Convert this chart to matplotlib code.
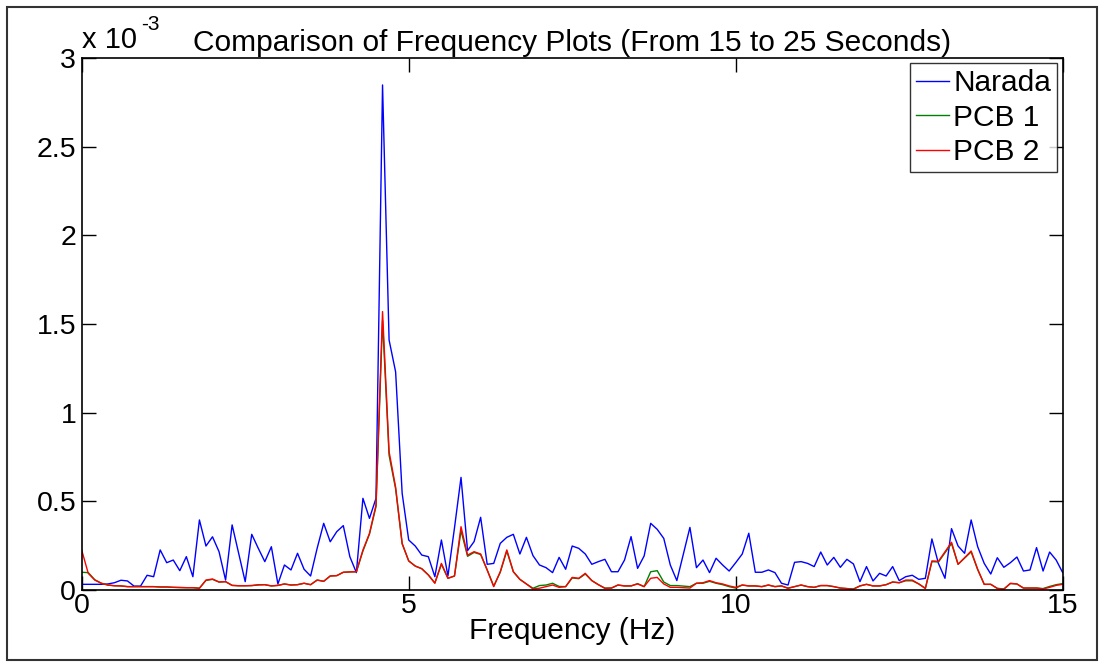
import numpy as np
import matplotlib
matplotlib.use("Agg")
import matplotlib.pyplot as plt
from matplotlib.patches import Rectangle

plt.rcParams['font.family'] = ['Liberation Sans', 'DejaVu Sans']

# Frequency axis (Hz), 0.1 Hz resolution (10 s window)
freq = np.round(np.arange(151) * 0.1, 1)

# Amplitudes in units of 1e-3
narada = [
    0.032, 0.032, 0.032, 0.032, 0.034, 0.041, 0.055, 0.051, 0.022, 0.022,
    0.083, 0.075, 0.226, 0.154, 0.169, 0.109, 0.188, 0.075, 0.395, 0.248,
    0.300, 0.216, 0.056, 0.367, 0.207, 0.047, 0.314, 0.235, 0.160, 0.244,
    0.034, 0.141, 0.113, 0.207, 0.117, 0.079, 0.235, 0.376, 0.272, 0.329,
    0.363, 0.188, 0.098, 0.517, 0.404, 0.517, 2.848, 1.410, 1.230, 0.545,
    0.282, 0.248, 0.197, 0.188, 0.075, 0.282, 0.079, 0.350, 0.635, 0.222,
    0.273, 0.410, 0.145, 0.150, 0.263, 0.297, 0.314, 0.203, 0.297, 0.194,
    0.141, 0.126, 0.098, 0.184, 0.117, 0.248, 0.235, 0.203, 0.145, 0.160,
    0.173, 0.103, 0.103, 0.169, 0.301, 0.122, 0.192, 0.376, 0.342, 0.291,
    0.141, 0.053, 0.203, 0.353, 0.126, 0.169, 0.098, 0.179, 0.141, 0.107,
    0.154, 0.203, 0.320, 0.100, 0.100, 0.113, 0.098, 0.038, 0.028, 0.156,
    0.160, 0.150, 0.132, 0.214, 0.141, 0.184, 0.128, 0.173, 0.147, 0.047,
    0.132, 0.051, 0.094, 0.079, 0.132, 0.053, 0.075, 0.083, 0.060, 0.066,
    0.288, 0.150, 0.066, 0.346, 0.248, 0.207, 0.395, 0.244, 0.150, 0.090,
    0.182, 0.128, 0.154, 0.186, 0.107, 0.113, 0.239, 0.107, 0.214, 0.169,
    0.098,
]

pcb1 = [
    0.100, 0.098, 0.058, 0.038, 0.028, 0.024, 0.023, 0.019, 0.019, 0.019,
    0.019, 0.019, 0.017, 0.017, 0.015, 0.014, 0.013, 0.013, 0.011, 0.054,
    0.060, 0.045, 0.047, 0.026, 0.024, 0.024, 0.025, 0.030, 0.030, 0.023,
    0.026, 0.034, 0.028, 0.030, 0.038, 0.030, 0.056, 0.049, 0.079, 0.081,
    0.100, 0.102, 0.103, 0.220, 0.315, 0.470, 1.520, 0.760, 0.570, 0.260,
    0.164, 0.135, 0.120, 0.085, 0.040, 0.145, 0.066, 0.079, 0.335, 0.190,
    0.212, 0.200, 0.113, 0.022, 0.100, 0.220, 0.103, 0.060, 0.034, 0.010,
    0.025, 0.028, 0.038, 0.020, 0.019, 0.068, 0.064, 0.090, 0.053, 0.030,
    0.011, 0.011, 0.028, 0.023, 0.023, 0.036, 0.019, 0.103, 0.109, 0.045,
    0.025, 0.025, 0.022, 0.019, 0.038, 0.038, 0.049, 0.038, 0.030, 0.019,
    0.011, 0.028, 0.023, 0.023, 0.019, 0.028, 0.019, 0.023, 0.011, 0.019,
    0.028, 0.019, 0.015, 0.025, 0.025, 0.019, 0.011, 0.008, 0.006, 0.023,
    0.032, 0.023, 0.023, 0.030, 0.045, 0.041, 0.052, 0.052, 0.034, 0.010,
    0.160, 0.158, 0.210, 0.262, 0.145, 0.180, 0.215, 0.115, 0.032, 0.032,
    0.009, 0.006, 0.036, 0.034, 0.011, 0.011, 0.011, 0.008, 0.020, 0.030,
    0.036,
]

pcb2 = [
    0.225, 0.094, 0.056, 0.038, 0.028, 0.024, 0.023, 0.019, 0.019, 0.019,
    0.019, 0.019, 0.017, 0.017, 0.015, 0.014, 0.013, 0.013, 0.009, 0.056,
    0.062, 0.045, 0.047, 0.026, 0.024, 0.024, 0.025, 0.028, 0.030, 0.023,
    0.026, 0.034, 0.028, 0.030, 0.038, 0.030, 0.056, 0.049, 0.079, 0.081,
    0.100, 0.102, 0.103, 0.225, 0.319, 0.479, 1.570, 0.780, 0.580, 0.263,
    0.164, 0.135, 0.120, 0.085, 0.038, 0.150, 0.066, 0.079, 0.357, 0.197,
    0.216, 0.203, 0.113, 0.019, 0.103, 0.226, 0.103, 0.060, 0.034, 0.006,
    0.010, 0.019, 0.028, 0.015, 0.019, 0.071, 0.066, 0.094, 0.053, 0.030,
    0.009, 0.011, 0.028, 0.023, 0.023, 0.034, 0.019, 0.066, 0.071, 0.034,
    0.015, 0.015, 0.013, 0.011, 0.038, 0.041, 0.053, 0.041, 0.034, 0.023,
    0.015, 0.028, 0.023, 0.023, 0.019, 0.028, 0.019, 0.023, 0.009, 0.019,
    0.028, 0.019, 0.015, 0.025, 0.025, 0.019, 0.011, 0.008, 0.004, 0.023,
    0.032, 0.023, 0.023, 0.030, 0.045, 0.041, 0.056, 0.056, 0.034, 0.008,
    0.164, 0.162, 0.216, 0.269, 0.145, 0.182, 0.220, 0.117, 0.032, 0.032,
    0.009, 0.004, 0.038, 0.034, 0.011, 0.011, 0.011, 0.006, 0.015, 0.026,
    0.032,
]

series_names = ["Narada", "PCB 1", "PCB 2"]
xticks = [0, 5, 10, 15]
yticks = [0, 0.5, 1, 1.5, 2, 2.5, 3]
ytick_labels = ["0", "0.5", "1", "1.5", "2", "2.5", "3"]

fig = plt.figure(figsize=(11.04, 6.64), dpi=100)
ax = fig.add_axes([81.7 / 1104, 1 - 590 / 664, (1062.7 - 81.7) / 1104, (590 - 58) / 664])

ax.plot(freq, narada, color=(0, 0, 1), lw=1.0, label=series_names[0])
ax.plot(freq, pcb1, color=(0, 0.5, 0), lw=1.0, label=series_names[1])
ax.plot(freq, pcb2, color=(1, 0, 0), lw=1.0, label=series_names[2])

ax.set_xlim(0, 15)
ax.set_ylim(0, 3)
ax.set_xticks(xticks)
ax.set_xticklabels([str(t) for t in xticks])
ax.set_yticks(yticks)
ax.set_yticklabels(ytick_labels)
ax.tick_params(direction='in', length=10, width=1, labelsize=20.5, top=True, right=True,
               pad=4, color='black')
ax.tick_params(axis='x', pad=2)
for s in ax.spines.values():
    s.set_linewidth(1.2)
    s.set_color('black')

ax.set_xlabel("Frequency (Hz)", fontsize=21.5, labelpad=-1)
ax.set_title("Comparison of Frequency Plots (From 15 to 25 Seconds)", fontsize=21.5, pad=5)

ax.text(0.0, 1.008, "x 10", transform=ax.transAxes, ha='left', va='bottom', fontsize=21)
ax.text(0.0605, 1.045, "-3", transform=ax.transAxes, ha='left', va='bottom', fontsize=15)

leg = ax.legend(loc='upper right', fontsize=21.5, frameon=True, fancybox=False,
                edgecolor='black', borderpad=0.2, handlelength=1.1, handletextpad=0.15,
                labelspacing=0.22, borderaxespad=0.18)
leg.get_frame().set_linewidth(1.0)

fig.patches.append(Rectangle((7 / 1104, 1 - 660 / 664), 1090 / 1104, 653 / 664,
                             transform=fig.transFigure, fill=False,
                             edgecolor='#333333', linewidth=1.5))

fig.savefig("out.png", dpi=100)
